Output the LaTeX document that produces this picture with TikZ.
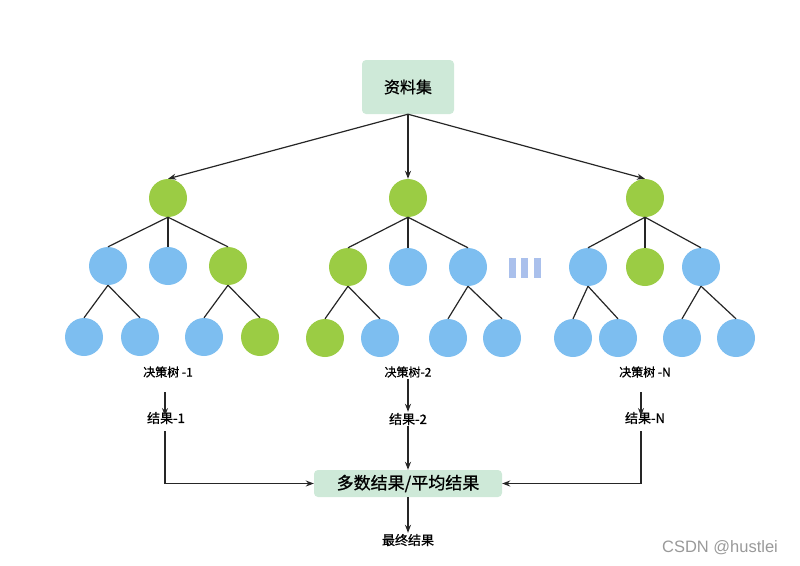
\documentclass[tikz,border=0pt]{standalone}
\usepackage{fontspec}
\setmainfont{Noto Sans CJK SC}
\newfontfamily\medfont{Noto Sans CJK SC}[RawFeature={embolden=0.9}]
\newfontfamily\wmfont{Liberation Sans}
\usetikzlibrary{arrows.meta}
\definecolor{treegreen}{RGB}{155,204,68}
\definecolor{treeblue}{RGB}{125,190,240}
\definecolor{mint}{RGB}{206,233,216}
\definecolor{dotblue}{RGB}{170,192,236}
\begin{document}
\begin{tikzpicture}[x=1pt,y=-1pt,
  gn/.style={circle,fill=treegreen,minimum size=38pt,inner sep=0pt},
  bn/.style={circle,fill=treeblue,minimum size=38pt,inner sep=0pt},
  edge/.style={draw=black!85,line width=1.2pt},
  arr/.style={edge,-{Stealth[length=8pt,width=6pt]}},
  lbl/.style={inner sep=1pt,font=\medfont\fontsize{12}{14}\selectfont},
  res/.style={inner sep=1pt,font=\medfont\fontsize{13}{15}\selectfont},
  mbox/.style={fill=mint,rounded corners=4pt,inner sep=0pt},
  dotbar/.style={fill=dotblue}
]
\useasboundingbox (0,0) rectangle (800,565);
\node[mbox,minimum width=92pt,minimum height=54pt,font=\medfont\fontsize{16}{18}\selectfont] (src) at (408,87) {资料集};

% tree 1
\node[gn] (r1) at (168,198) {};
\node[bn] (a1) at (108,266) {};
\node[bn] (b1) at (168,266) {};
\node[gn] (c1) at (228,266) {};
\node[bn] (d1) at (84,337) {};
\node[bn] (e1) at (140,337) {};
\node[bn] (f1) at (204,337) {};
\node[gn] (g1) at (260,337) {};
% tree 2
\node[gn] (r2) at (408,198) {};
\node[gn] (a2) at (348,267) {};
\node[bn] (b2) at (408,267) {};
\node[bn] (c2) at (468,267) {};
\node[gn] (d2) at (325,338) {};
\node[bn] (e2) at (380,338) {};
\node[bn] (f2) at (448,338) {};
\node[bn] (g2) at (502,338) {};
% tree 3
\node[gn] (r3) at (645,198) {};
\node[bn] (a3) at (588,267) {};
\node[gn] (b3) at (645,267) {};
\node[bn] (c3) at (701,267) {};
\node[bn] (d3) at (573,338) {};
\node[bn] (e3) at (618,338) {};
\node[bn] (f3) at (682,338) {};
\node[bn] (g3) at (736,338) {};

\foreach \t in {1,2,3}{
  \draw[edge] (r\t.south) -- (a\t.north);
  \draw[edge] (r\t.south) -- (b\t.north);
  \draw[edge] (r\t.south) -- (c\t.north);
  \draw[edge] (a\t.south) -- (d\t.north);
  \draw[edge] (a\t.south) -- (e\t.north);
  \draw[edge] (c\t.south) -- (f\t.north);
  \draw[edge] (c\t.south) -- (g\t.north);
  \draw[arr] (src.south) -- (r\t.north);
}

% dots
\node[dotbar,minimum width=7pt,minimum height=20pt,inner sep=0pt] (p1) at (512.5,268) {};
\node[dotbar,minimum width=7pt,minimum height=20pt,inner sep=0pt] (p2) at (524.5,268) {};
\node[dotbar,minimum width=7pt,minimum height=20pt,inner sep=0pt] (p3) at (537.5,268) {};

% labels
\node[lbl] (t1) at (168,372) {决策树 -1};
\node[lbl] (t2) at (408,372) {决策树-2};
\node[lbl] (t3) at (645,372) {决策树 -N};
\node[res] (s1) at (166,418) {结果-1};
\node[res] (s2) at (408,419) {结果-2};
\node[res] (s3) at (645,418) {结果-N};

\node[mbox,minimum width=188pt,minimum height=27pt,font=\medfont\fontsize{17}{19}\selectfont] (agg) at (408,483.5) {多数结果/平均结果};
\node[res] (fin) at (408,540) {最终结果};

\coordinate (t1b) at (165,392);
\coordinate (s1t) at (165,416);
\coordinate (t3b) at (641,392);
\coordinate (s3t) at (641,416);
\draw[arr] (t1b) -- (s1t);
\draw[arr] (t2.south) -- (s2.north);
\draw[arr] (t3b) -- (s3t);
\coordinate (s1b) at (165,431);
\coordinate (s3b) at (641,431);
\draw[arr] (s1b) |- (agg.west);
\draw[arr] (s2.south) -- (agg.north);
\draw[arr] (s3b) |- (agg.east);
\draw[arr] (agg.south) -- (fin.north);

\node[text=black!40,font=\wmfont\fontsize{16.5}{18}\selectfont] (wm) at (720,548) {CSDN @hustlei};
\end{tikzpicture}
\end{document}
